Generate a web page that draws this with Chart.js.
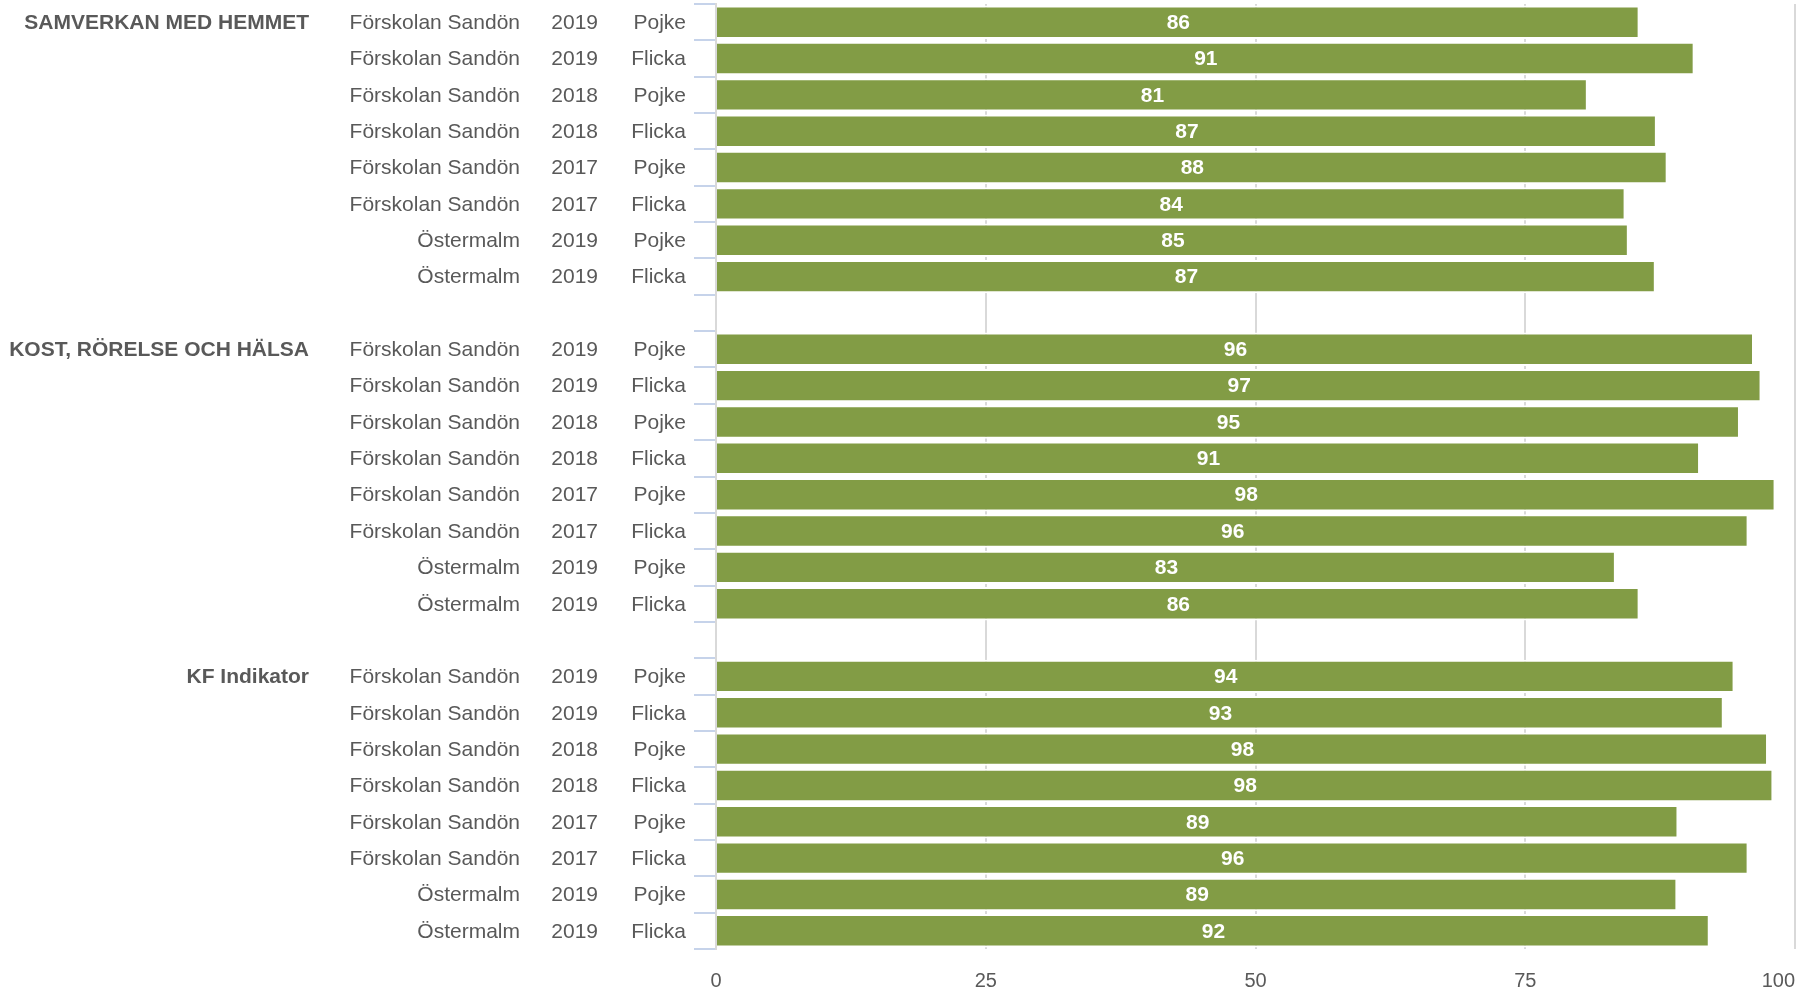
<!DOCTYPE html>
<html>
<head>
<meta charset="utf-8">
<script src="https://cdn.jsdelivr.net/npm/chart.js@4"></script>
<style>
  html, body { margin: 0; padding: 0; background: #fff; }
  #wrap { width: 1810px; height: 991px; position: relative; }
</style>
</head>
<body>
<div id="wrap"><canvas id="chart"></canvas></div>
<script>
// Grupper och rader
const groups = ['SAMVERKAN MED HEMMET', 'KOST, RÖRELSE OCH HÄLSA', 'KF Indikator'];
const schools = ['Förskolan Sandön', 'Förskolan Sandön', 'Förskolan Sandön', 'Förskolan Sandön',
                 'Förskolan Sandön', 'Förskolan Sandön', 'Östermalm', 'Östermalm'];
const years = ['2019', '2019', '2018', '2018', '2017', '2017', '2019', '2019'];
const genders = ['Pojke', 'Flicka', 'Pojke', 'Flicka', 'Pojke', 'Flicka', 'Pojke', 'Flicka'];

// Värden per grupp (avlästa)
const samverkan = [85.6, 90.7, 80.8, 87.2, 88.2, 84.3, 84.6, 87.1];
const kost = [96.2, 96.9, 94.9, 91.2, 98.2, 95.7, 83.4, 85.6];
const kfIndikator = [94.4, 93.4, 97.5, 98.0, 89.2, 95.7, 89.1, 92.1];

const xTicks = [0, 25, 50, 75, 100];

// Bygg rader med en tom rad mellan grupperna
const rows = [];
const values = [];
[samverkan, kost, kfIndikator].forEach((vals, g) => {
    if (g > 0) { rows.push(null); values.push(null); }
    vals.forEach((v, i) => {
        rows.push({ group: i === 0 ? groups[g] : '', school: schools[i], year: years[i], gender: genders[i] });
        values.push(v);
    });
});
const labels = rows.map((r, i) => r ? r.group + ' ' + r.school + ' ' + r.year + ' ' + r.gender : 'gap' + i);

const textColor = '#595959';
const fontFamily = "Arial, 'Liberation Sans', sans-serif";

// Etiketter till vänster om axeln
const rowLabels = {
    id: 'rowLabels',
    afterDraw(chart) {
        const ctx = chart.ctx;
        const y = chart.scales.y;
        ctx.save();
        ctx.fillStyle = textColor;
        ctx.textBaseline = 'middle';
        ctx.textAlign = 'right';
        rows.forEach((r, i) => {
            if (!r) return;
            const py = y.getPixelForValue(i) + 1;
            if (r.group) {
                ctx.font = 'bold 21px ' + fontFamily;
                ctx.fillText(r.group, 309, py);
            }
            ctx.font = '21px ' + fontFamily;
            ctx.fillText(r.school, 520, py);
            ctx.fillText(r.year, 598, py);
            ctx.fillText(r.gender, 686, py);
        });

        // x-axelns etiketter, sista högerjusterad mot axelns slut
        const x = chart.scales.x;
        ctx.font = '20px ' + fontFamily;
        xTicks.forEach((v, i) => {
            ctx.textAlign = i === xTicks.length - 1 ? 'right' : 'center';
            ctx.fillText(String(v), x.getPixelForValue(v), 981);
        });
        ctx.restore();
    }
};

// Värdeetiketter i staplarna
const valueLabels = {
    id: 'valueLabels',
    afterDatasetsDraw(chart) {
        const ctx = chart.ctx;
        const meta = chart.getDatasetMeta(0);
        ctx.save();
        ctx.fillStyle = '#ffffff';
        ctx.font = 'bold 21px ' + fontFamily;
        ctx.textAlign = 'center';
        ctx.textBaseline = 'middle';
        meta.data.forEach((bar, i) => {
            if (values[i] == null) return;
            ctx.fillText(Math.round(values[i]), (bar.x + bar.base) / 2, bar.y + 1);
        });
        ctx.restore();
    }
};

new Chart(document.getElementById('chart'), {
    type: 'bar',
    data: {
        labels: labels,
        datasets: [{
            data: values,
            backgroundColor: '#829c45',
            borderColor: '#ffffff',
            borderWidth: 2,
            borderSkipped: 'start',
            barPercentage: 0.92,
            categoryPercentage: 1
        }]
    },
    options: {
        indexAxis: 'y',
        responsive: true,
        maintainAspectRatio: false,
        animation: false,
        layout: { padding: { top: 4, right: 15, bottom: 0, left: 0 } },
        plugins: {
            legend: { display: false },
            tooltip: { enabled: false }
        },
        scales: {
            x: {
                min: 0,
                max: 100,
                afterBuildTicks: s => { s.ticks = xTicks.map(v => ({ value: v })); },
                afterFit: s => { s.height = 42; },
                grid: { color: '#d9d9d9', lineWidth: 2, drawTicks: false },
                border: { display: false },
                ticks: { display: false }
            },
            y: {
                afterFit: s => { s.width = 716; },
                grid: {
                    drawOnChartArea: false,
                    drawTicks: true,
                    tickLength: 22,
                    tickColor: '#c6d3ea',
                    lineWidth: 2
                },
                border: { display: true, color: '#d9d9d9', width: 2 },
                ticks: { display: false }
            }
        }
    },
    plugins: [rowLabels, valueLabels]
});
</script>
</body>
</html>
